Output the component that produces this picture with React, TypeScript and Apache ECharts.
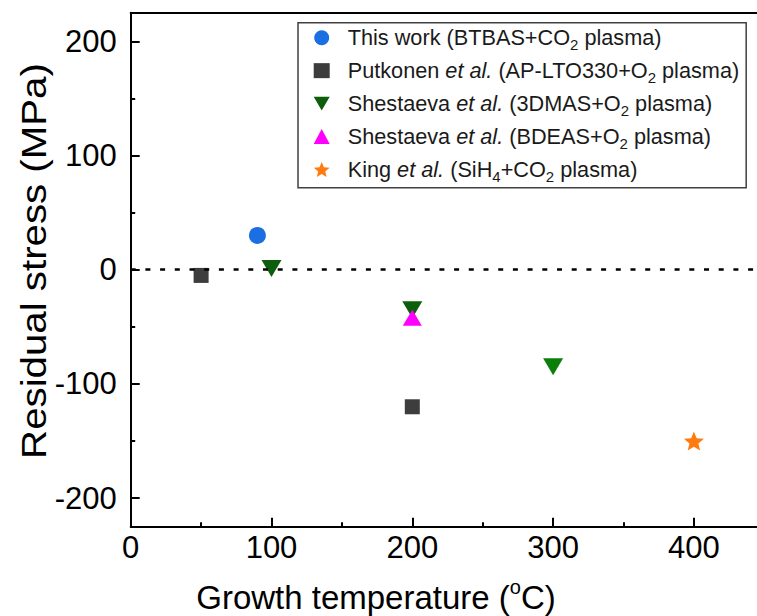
import React, { useEffect, useRef } from 'react';
import * as echarts from 'echarts';

// ---- data ----
const seriesNames = [
  'This work (BTBAS+CO2 plasma)',
  'Putkonen et al. (AP-LTO330+O2 plasma)',
  'Shestaeva et al. (3DMAS+O2 plasma)',
  'Shestaeva et al. (BDEAS+O2 plasma)',
  'King et al. (SiH4+CO2 plasma)',
];
const legendRich = [
  'This work (BTBAS+CO{sub|2} plasma)',
  'Putkonen {i|et al.} (AP-LTO330+O{sub|2} plasma)',
  'Shestaeva {i|et al.} (3DMAS+O{sub|2} plasma)',
  'Shestaeva {i|et al.} (BDEAS+O{sub|2} plasma)',
  'King {i|et al.} (SiH{sub|4}+CO{sub|2} plasma)',
];
const thisWork: number[][] = [[90, 30]];
const putkonen: number[][] = [[50, -5], [200, -120]];
const shestaeva3DMAS: number[][] = [[100, 1], [200, -35], [300, -85]];
const shestaevaBDEAS: number[][] = [[200, -42]];
const king: number[][] = [[400, -150]];

const xMajorTicks = [0, 100, 200, 300, 400];
const xMinorTicks = [50, 150, 250, 350];
const yMajorTicks = [-200, -100, 0, 100, 200];
const yMinorTicks = [-150, -50, 50, 150];
const xRange = [0, 450];
const yRange = [-225, 225];

const FONT = '"Liberation Sans", Arial, sans-serif';
const STAR =
  'path://M100,0 L126.4,63.6 L195.1,69.1 L142.8,113.9 L158.8,180.9 L100,145 L41.2,180.9 L57.2,113.9 L4.9,69.1 L73.6,63.6 Z';
const DOWN_TRI = 'path://M0,0 L20,0 L10,17 Z';

function buildOption(): any {
  const axisLineStyle = { color: '#000', width: 2 };
  const mkX = (extra: any) => ({
    type: 'value',
    min: xRange[0],
    max: xRange[1],
    splitLine: { show: false },
    ...extra,
  });
  const mkY = (extra: any) => ({
    type: 'value',
    min: yRange[0],
    max: yRange[1],
    splitLine: { show: false },
    ...extra,
  });
  const textColor = '#1a1a1a';
  return {
    animation: false,
    backgroundColor: '#fff',
    grid: { left: 130.7, top: 12.7, width: 633.6, height: 514 },
    xAxis: [
      mkX({
        position: 'bottom',
        axisLine: { show: true, onZero: false, lineStyle: axisLineStyle },
        axisTick: { show: true, inside: true, length: 9, customValues: xMajorTicks, lineStyle: axisLineStyle },
        axisLabel: { show: true, customValues: xMajorTicks, fontSize: 31, fontFamily: FONT, color: '#000', margin: 5 },
      }),
      mkX({
        position: 'bottom',
        axisLine: { show: false, onZero: false },
        axisTick: { show: true, inside: true, length: 4.5, customValues: xMinorTicks, lineStyle: axisLineStyle },
        axisLabel: { show: false },
      }),
      mkX({
        position: 'top',
        axisLine: { show: true, onZero: false, lineStyle: axisLineStyle },
        axisTick: { show: false },
        axisLabel: { show: false },
      }),
    ],
    yAxis: [
      mkY({
        position: 'left',
        axisLine: { show: true, onZero: false, lineStyle: axisLineStyle },
        axisTick: { show: true, inside: true, length: 9, customValues: yMajorTicks, lineStyle: axisLineStyle },
        axisLabel: { show: true, customValues: yMajorTicks, fontSize: 31, fontFamily: FONT, color: '#000', margin: 14 },
      }),
      mkY({
        position: 'left',
        axisLine: { show: false, onZero: false },
        axisTick: { show: true, inside: true, length: 4.5, customValues: yMinorTicks, lineStyle: axisLineStyle },
        axisLabel: { show: false },
      }),
    ],
    legend: {
      show: true,
      orient: 'vertical',
      left: 298,
      top: 22.7,
      padding: [2, 7, 3.5, 15.7],
      itemWidth: 16,
      itemHeight: 15,
      itemGap: 5.2,
      symbolKeepAspect: true,
      borderColor: '#404040',
      borderWidth: 1.5,
      backgroundColor: '#fff',
      data: seriesNames.map((n, i) => (i === 2 ? { name: n, icon: DOWN_TRI } : { name: n })),
      formatter: (name: string) => legendRich[seriesNames.indexOf(name)],
      textStyle: {
        fontSize: 21.7,
        fontFamily: FONT,
        color: textColor,
        lineHeight: 26,
        padding: [0, 0, 0, 13],
        rich: {
          i: { fontSize: 21.7, fontFamily: FONT, fontStyle: 'italic', color: textColor, lineHeight: 26 },
          sub: { fontSize: 15, fontFamily: FONT, color: textColor, verticalAlign: 'bottom', height: 11.5, lineHeight: 11.5 },
        },
      },
    },
    series: [
      {
        name: seriesNames[0],
        type: 'scatter',
        data: thisWork,
        symbol: 'circle',
        symbolSize: 17,
        itemStyle: { color: '#1b6fe2', opacity: 1 },
        markLine: {
          silent: true,
          symbol: ['none', 'none'],
          label: { show: false },
          lineStyle: { color: '#000', width: 2.7, type: [5, 9.7] },
          data: [{ yAxis: 0 }],
        },
      },
      {
        name: seriesNames[1],
        type: 'scatter',
        data: putkonen,
        symbol: 'rect',
        symbolSize: 15,
        itemStyle: { color: '#3d3d3d', opacity: 1 },
      },
      {
        name: seriesNames[2],
        type: 'scatter',
        data: shestaeva3DMAS.map((d, i) => (i === 2 ? { value: d, itemStyle: { color: '#0a7f0a' } } : d)),
        symbol: 'triangle',
        symbolRotate: 180,
        symbolSize: [20, 17],
        itemStyle: { color: '#0c5e0c', opacity: 1 },
      },
      {
        name: seriesNames[3],
        type: 'scatter',
        data: shestaevaBDEAS,
        symbol: 'triangle',
        symbolSize: [19, 16],
        itemStyle: { color: '#ff00ff', opacity: 1 },
      },
      {
        name: seriesNames[4],
        type: 'scatter',
        data: king,
        symbol: STAR,
        symbolKeepAspect: true,
        symbolSize: 20,
        itemStyle: { color: '#ff7b0f', opacity: 1 },
      },
    ],
    graphic: [
      {
        type: 'text',
        x: 376,
        y: 597,
        style: {
          text: 'Growth temperature ({sup|o}C)',
          fontSize: 33,
          fontFamily: FONT,
          fill: '#000',
          align: 'center',
          verticalAlign: 'middle',
          lineHeight: 40,
          rich: {
            sup: { fontSize: 20, fontFamily: FONT, fill: '#000', verticalAlign: 'top', height: 20, lineHeight: 20 },
          },
        },
      },
      {
        type: 'text',
        x: 34,
        y: 261,
        rotation: Math.PI / 2,
        scaleX: 1.15,
        style: {
          text: 'Residual stress (MPa)',
          fontSize: 35,
          fontFamily: FONT,
          fill: '#000',
          align: 'center',
          verticalAlign: 'middle',
        },
      },
    ],
  };
}

export default function App() {
  const ref = useRef<HTMLDivElement>(null);
  useEffect(() => {
    if (!ref.current) return;
    const chart = echarts.init(ref.current, null, { renderer: 'svg' });
    chart.setOption(buildOption());
    return () => chart.dispose();
  }, []);
  return (
    <div
      style={{
        position: 'fixed',
        left: 0,
        top: 0,
        width: 757,
        height: 616,
        overflow: 'hidden',
        background: '#fff',
      }}
    >
      <div ref={ref} style={{ width: 780, height: 616 }} />
    </div>
  );
}
